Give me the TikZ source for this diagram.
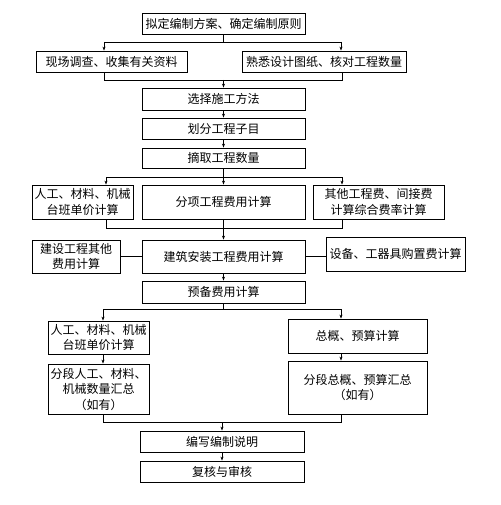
\documentclass[tikz,border=0pt]{standalone}
\usepackage{fontspec}
\setmainfont{Noto Sans CJK SC}
\usetikzlibrary{arrows.meta}
\begin{document}
\begin{tikzpicture}[x=1pt, y=-1pt, font=\fontsize{12pt}{15.5pt}\selectfont,
	box/.style={draw, line width=0.8pt, align=center, inner sep=1pt},
	line/.style={line width=0.8pt},
	arr/.style={line width=0.8pt, -{Stealth[length=4pt,width=3pt]}}]
	\useasboundingbox (0,0) rectangle (500,505);
	%boxes
	\node[box, minimum width=163, minimum height=21] (plan) at (223.5,23.5) {拟定编制方案、确定编制原则};
	\node[box, minimum width=151, minimum height=21] (survey) at (111.5,61.5) {现场调查、收集有关资料};
	\node[box, minimum width=164, minimum height=21] (drawings) at (324,61.5) {熟悉设计图纸、核对工程数量};
	\node[box, minimum width=163, minimum height=22] (method) at (223.5,99) {选择施工方法};
	\node[box, minimum width=163, minimum height=21] (items) at (223.5,128.5) {划分工程子目};
	\node[box, minimum width=163, minimum height=20] (qty) at (223.5,158) {摘取工程数量};
	\node[box, minimum width=101, minimum height=34] (price) at (82.5,202) {人工、材料、机械\\台班单价计算};
	\node[box, minimum width=163, minimum height=34] (sub) at (223.5,202) {分项工程费用计算};
	\node[box, minimum width=131, minimum height=34] (rate) at (378.5,202) {其他工程费、间接费\\计算综合费率计算};
	\node[box, minimum width=163, minimum height=33] (build) at (223.5,256.5) {建筑安装工程费用计算};
	\node[box, minimum width=88, minimum height=33] (othercost) at (76,256.5) {建设工程其他\\费用计算};
	\node[box, minimum width=139, minimum height=34] (equip) at (395.5,254) {设备、工器具购置费计算};
	\node[box, minimum width=163, minimum height=22] (reserve) at (223.5,292) {预备费用计算};
	\node[box, minimum width=101, minimum height=33] (price2) at (98.5,337.5) {人工、材料、机械\\台班单价计算};
	\node[box, minimum width=139, minimum height=34] (total) at (357.5,336) {总概、预算计算};
	\node[box, minimum width=101, minimum height=50] (sumleft) at (98.5,389) {分段人工、材料、\\机械数量汇总\\（如有）};
	\node[box, minimum width=139, minimum height=53] (sumright) at (357.5,387.5) {分段总概、预算汇总\\（如有）};
	\node[box, minimum width=164, minimum height=21] (note) at (222,441.5) {编写编制说明};
	\node[box, minimum width=164, minimum height=21] (check) at (222,471.5) {复核与审核};
	%split and join points
	\coordinate (s1l) at (104,42);
	\coordinate (s1r) at (341,42);
	\coordinate (j1l) at (104,80);
	\coordinate (j1r) at (342,80);
	\coordinate (s2l) at (106,177);
	\coordinate (s2r) at (342,177);
	\coordinate (j2l) at (106,228);
	\coordinate (j2r) at (342,228);
	\coordinate (s3l) at (103,309);
	\coordinate (s3r) at (341,309);
	\coordinate (j3l) at (103,422);
	\coordinate (j3r) at (341,422);
	%connectors
	\draw[line] (plan.south) -- (plan.south |- s1l);
	\draw[line] (s1l) -- (s1r);
	\draw[arr] (s1l) -- (s1l |- survey.north);
	\draw[arr] (s1r) -- (s1r |- drawings.north);
	\draw[line] (j1l |- survey.south) -- (j1l) -- (j1r) -- (j1r |- drawings.south);
	\draw[arr] (method.north |- j1l) -- (method.north);
	\foreach \a/\b in {method/items, items/qty, build/reserve, note/check}
	\draw[arr] (\a.south) -- (\b.north);
	\draw[line] (qty.south) -- (qty.south |- s2l);
	\draw[line] (s2l) -- (s2r);
	\draw[arr] (s2l) -- (s2l |- price.north);
	\draw[arr] (sub.north |- s2l) -- (sub.north);
	\draw[arr] (s2r) -- (s2r |- rate.north);
	\draw[line] (j2l |- price.south) -- (j2l) -- (j2r) -- (j2r |- rate.south);
	\draw[arr] (sub.south) -- (build.north);
	\draw[line] (othercost.east) -- (build.west);
	\draw[line] (build.east) -- (build.east -| equip.west);
	\draw[line] (reserve.south) -- (reserve.south |- s3l);
	\draw[line] (s3l) -- (s3r);
	\draw[arr] (s3l) -- (s3l |- price2.north);
	\draw[arr] (s3r) -- (s3r |- total.north);
	\draw[arr] (s3l |- price2.south) -- (s3l |- sumleft.north);
	\draw[arr] (s3r |- total.south) -- (s3r |- sumright.north);
	\draw[line] (j3l |- sumleft.south) -- (j3l) -- (j3r) -- (j3r |- sumright.south);
	\draw[arr] (note.north |- j3l) -- (note.north);
\end{tikzpicture}
\end{document}
